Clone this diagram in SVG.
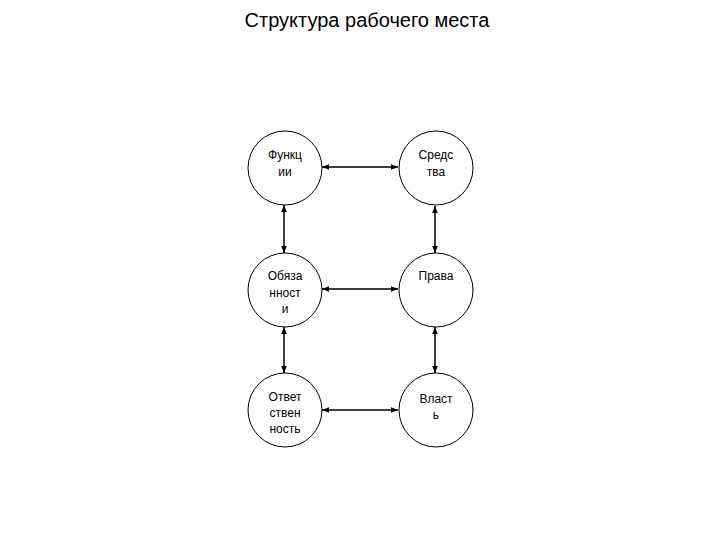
<svg xmlns="http://www.w3.org/2000/svg" width="720" height="540" viewBox="0 0 720 540">
<defs>
<marker id="a" viewBox="0 0 10 10" refX="10" refY="5" markerWidth="7" markerHeight="7" orient="auto-start-reverse" markerUnits="userSpaceOnUse"><path d="M0,1 L10,5 L0,9 z" fill="#000"/></marker>
<style>
circle{fill:#fff;stroke:#000;stroke-width:1}
text{font-family:"Liberation Sans",Arial,sans-serif;font-size:12px;text-anchor:middle;fill:#000}
.c line{stroke:#000;stroke-width:1.5;marker-start:url(#a);marker-end:url(#a)}
</style>
</defs>
<rect width="720" height="540" fill="#fff"/>
<text x="367" y="27" style="font-size:20px">Структура рабочего места</text>
<g class="c">
<line x1="322" y1="167" x2="398" y2="167"/>
<line x1="322" y1="289" x2="398" y2="289"/>
<line x1="322" y1="410" x2="398" y2="410"/>
<line x1="284" y1="205" x2="284" y2="253"/>
<line x1="435" y1="206" x2="435" y2="253"/>
<line x1="284" y1="327" x2="284" y2="373"/>
<line x1="435" y1="327" x2="435" y2="373"/>
</g>
<g id="n1"><circle cx="285" cy="168" r="37"/><text x="285" y="159">Функц</text><text x="285" y="176">ии</text></g>
<g id="n2"><circle cx="436" cy="168" r="37"/><text x="436" y="159">Средс</text><text x="436" y="176">тва</text></g>
<g id="n3"><circle cx="285" cy="290" r="37"/><text x="285" y="280">Обяза</text><text x="285" y="297">нност</text><text x="285" y="313">и</text></g>
<g id="n4"><circle cx="436" cy="290" r="37"/><text x="436" y="280">Права</text></g>
<g id="n5"><circle cx="285" cy="410" r="37"/><text x="285" y="401">Ответ</text><text x="285" y="417">ствен</text><text x="285" y="433">ность</text></g>
<g id="n6"><circle cx="436" cy="410" r="37"/><text x="436" y="403">Власт</text><text x="436" y="419">ь</text></g>
</svg>
